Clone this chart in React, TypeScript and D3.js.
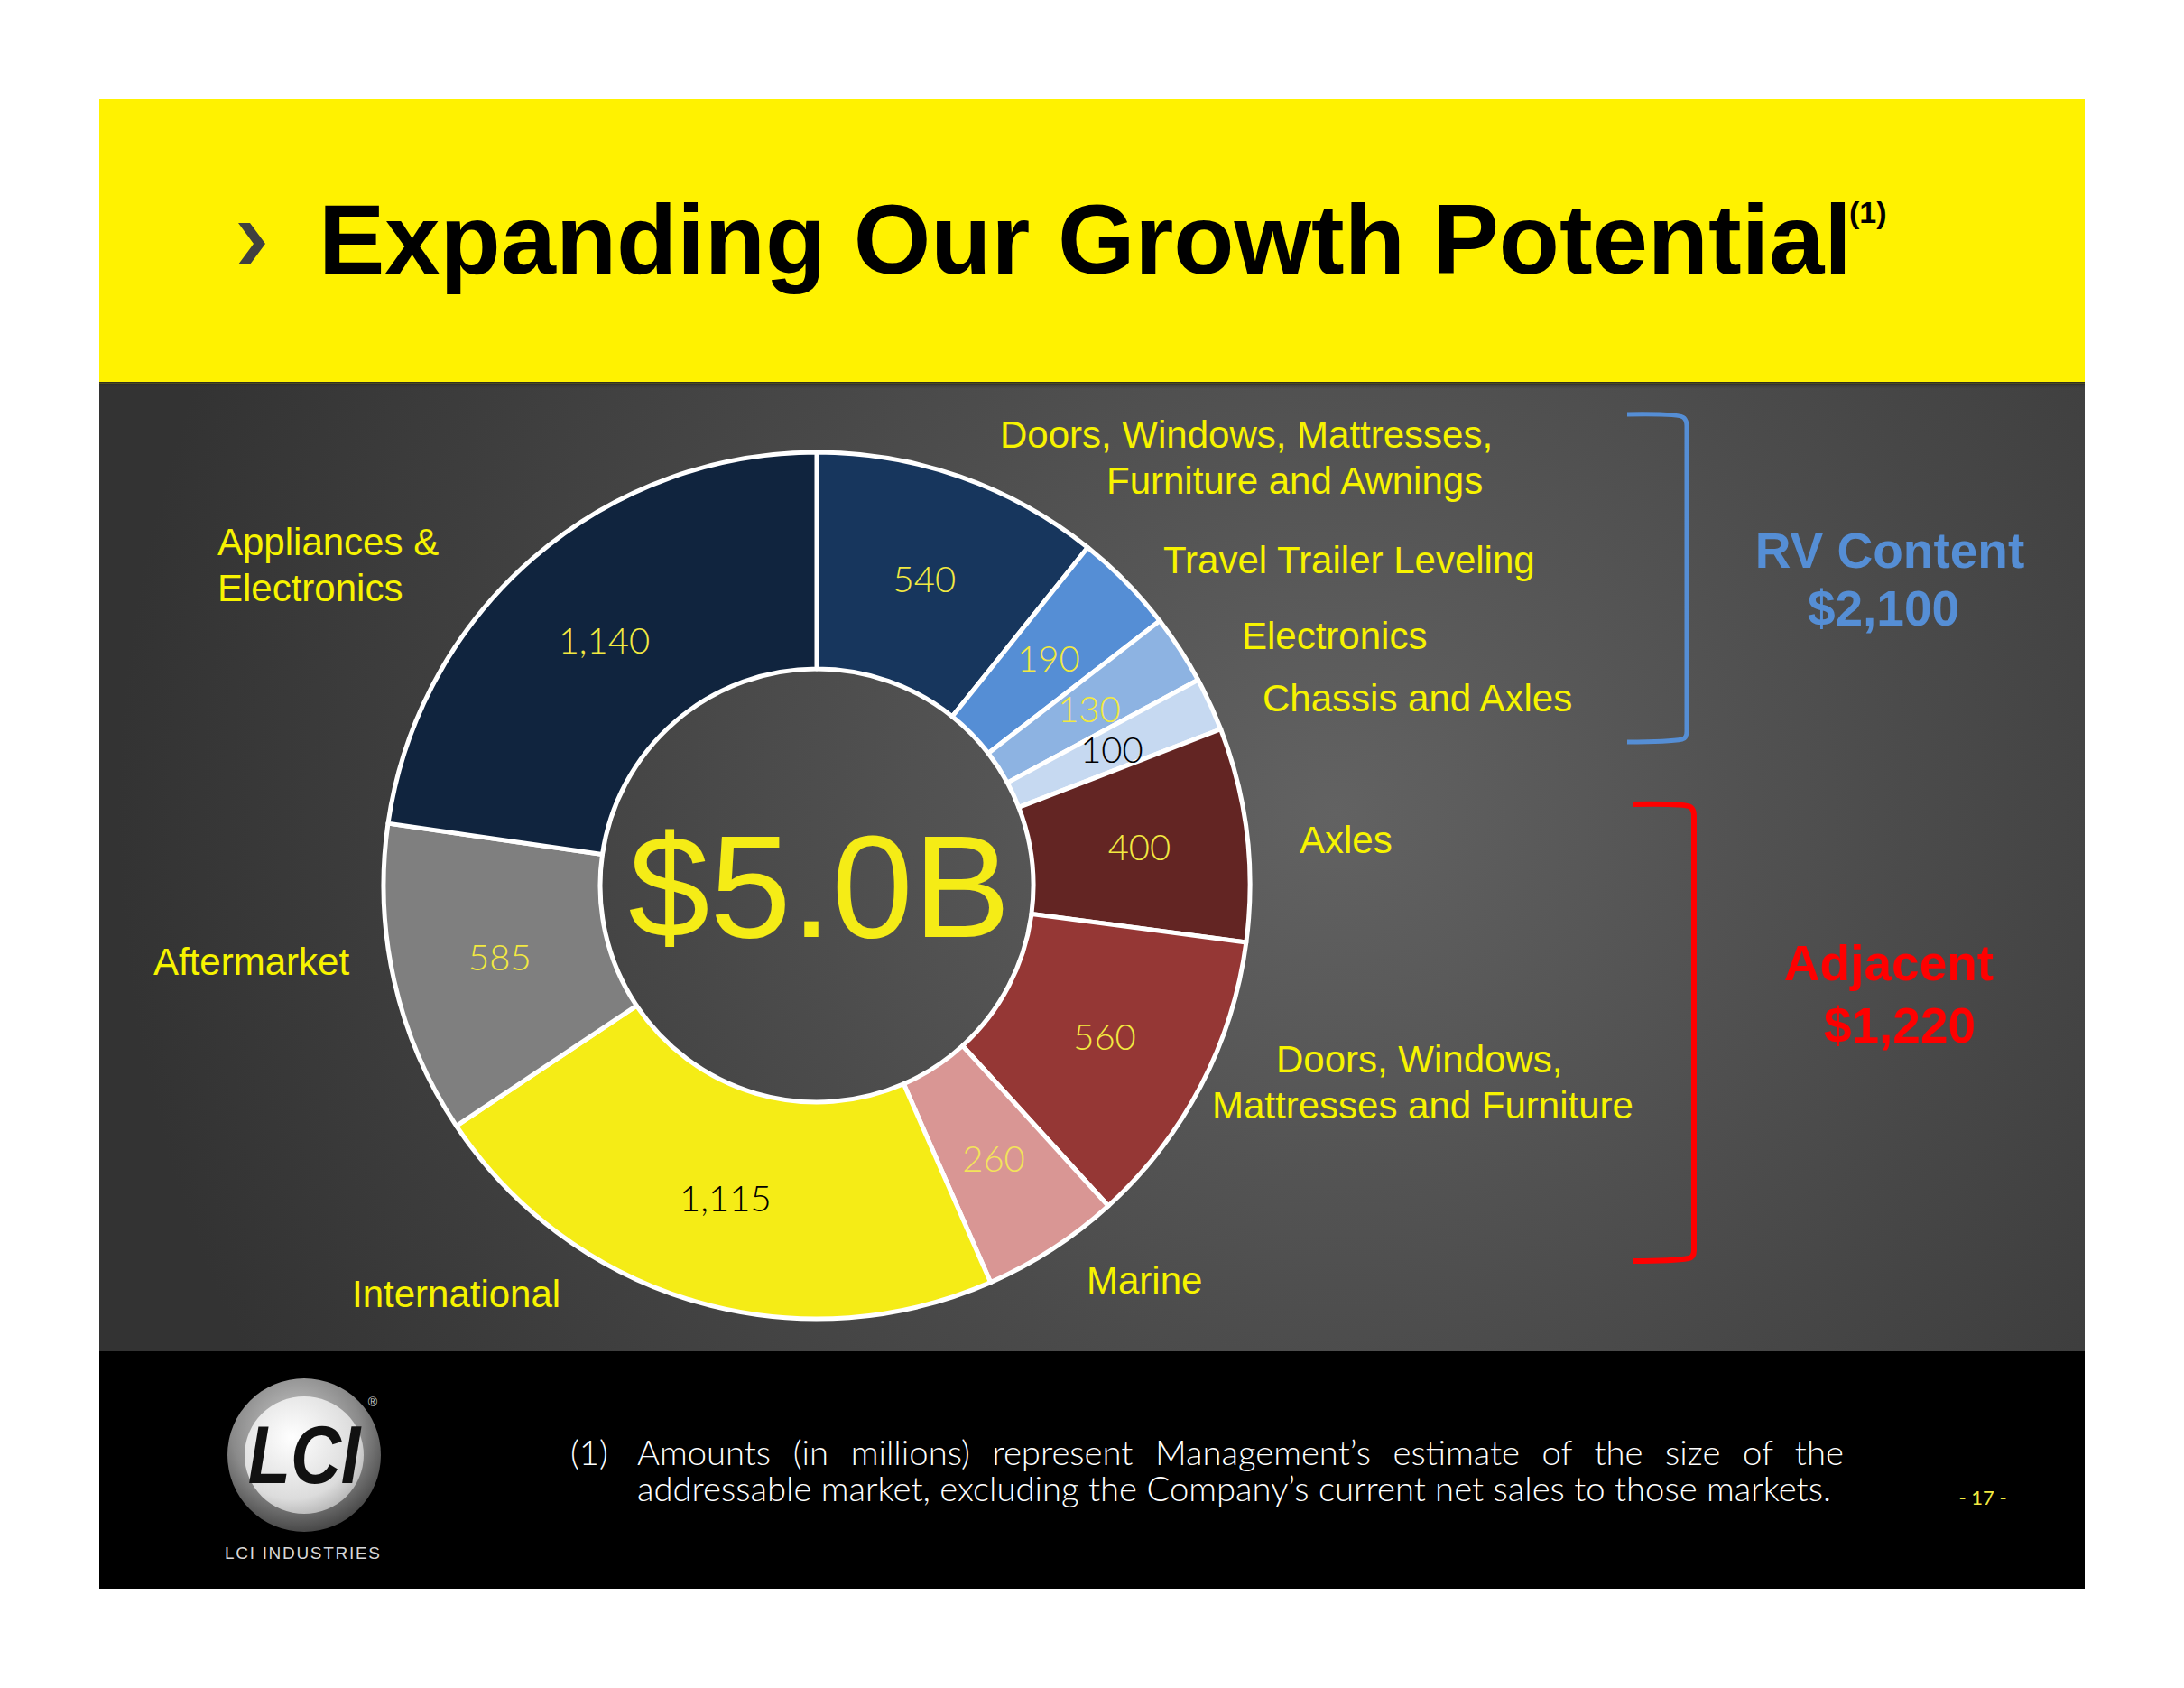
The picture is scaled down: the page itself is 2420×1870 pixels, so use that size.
import React, { useLayoutEffect, useRef, useState } from "react";
import * as d3 from "d3";

// ---------- data ----------
const categories = [
  "Doors, Windows, Mattresses, Furniture and Awnings",
  "Travel Trailer Leveling",
  "Electronics",
  "Chassis and Axles",
  "Axles",
  "Doors, Windows, Mattresses and Furniture",
  "Marine",
  "International",
  "Aftermarket",
  "Appliances & Electronics",
];
const values = [540, 190, 130, 100, 400, 560, 260, 1115, 585, 1140];
const valueLabels = ["540", "190", "130", "100", "400", "560", "260", "1,115", "585", "1,140"];
const groupNames = ["RV Content", "Adjacent"];
const groupTotals = ["$2,100", "$1,220"];
const totalLabel = "$5.0B";
const titleText = "Expanding Our Growth Potential";
const footnoteLine1 = "Amounts (in millions) represent Management\u2019s estimate of the size of the";
const footnoteLine2 = "addressable market, excluding the Company\u2019s current net sales to those markets.";
const pageNumber = "- 17 -";

// ---------- styles ----------
const sliceColors = ["#17365d", "#558ed5", "#8db3e2", "#c6d9f1", "#632523", "#953735", "#d99694", "#f5ec16", "#7f7f7f", "#10243e"];
const valueTextColors = ["#f2e941", "#f2e941", "#f2e941", "#000000", "#f2e941", "#f2e941", "#f3e35a", "#000000", "#f2e941", "#f2e941"];

// category label layout (lines, x, baseline y)
const labelLayout: { lines: string[]; x: number[]; y: number[] }[] = [
  { lines: ["Doors, Windows, Mattresses,", "Furniture and Awnings"], x: [1108, 1226], y: [496, 547] },
  { lines: ["Travel Trailer Leveling"], x: [1289], y: [635] },
  { lines: ["Electronics"], x: [1376], y: [719] },
  { lines: ["Chassis and Axles"], x: [1399], y: [788] },
  { lines: ["Axles"], x: [1440], y: [945] },
  { lines: ["Doors, Windows,", "Mattresses and Furniture"], x: [1414, 1343], y: [1188, 1239] },
  { lines: ["Marine"], x: [1204], y: [1433] },
  { lines: ["International"], x: [390], y: [1448] },
  { lines: ["Aftermarket"], x: [170], y: [1080] },
  { lines: ["Appliances &", "Electronics"], x: [241, 241], y: [615, 666] },
];

const W = 2420;
const H = 1870;
const CX = 905;
const CY = 981;
const R_OUT = 480;
const R_IN = 240;
const LABEL_YELLOW = "#f7f300";
const SANS = "'Liberation Sans', Arial, Helvetica, sans-serif";
const GOTHIC = "'Century Gothic', 'URW Gothic', Lato, 'Open Sans', sans-serif";
const FOOT_BASE = 32;
const LINE1_W = 1337;
const LINE2_W = 1323;

export default function App() {
  const l1Ref = useRef<SVGTextElement>(null);
  const l2Ref = useRef<SVGTextElement>(null);
  const [foot, setFoot] = useState({ size: FOOT_BASE, ws: 0, ready: false });

  useLayoutEffect(() => {
    if (foot.ready) return;
    const l1 = l1Ref.current;
    const l2 = l2Ref.current;
    if (!l1 || !l2) return;
    const w2 = l2.getComputedTextLength();
    const size = (FOOT_BASE * LINE2_W) / w2;
    const w1 = (l1.getComputedTextLength() * size) / FOOT_BASE;
    const gaps = footnoteLine1.split(" ").length - 1;
    const ws = (LINE1_W - w1) / gaps;
    setFoot({ size, ws, ready: true });
  }, [foot.ready]);

  const pie = d3
    .pie<number>()
    .sort(null)
    .value((d) => d)
    .startAngle(0)
    .endAngle(2 * Math.PI);
  const arcs = pie(values);
  const arcGen = d3.arc<d3.PieArcDatum<number>>().innerRadius(R_IN).outerRadius(R_OUT);
  const labelArc = d3
    .arc<d3.PieArcDatum<number>>()
    .innerRadius((R_IN + R_OUT) / 2)
    .outerRadius((R_IN + R_OUT) / 2);

  return (
    <svg
      width={W}
      height={H}
      viewBox={`0 0 ${W} ${H}`}
      style={{ position: "absolute", left: 0, top: 0, background: "#ffffff" }}
    >
      <defs>
        <radialGradient id="panelGrad" gradientUnits="userSpaceOnUse" cx={1480} cy={900} r={1350}>
          <stop offset="0" stopColor="#626262" />
          <stop offset="0.55" stopColor="#474747" />
          <stop offset="1" stopColor="#333333" />
        </radialGradient>
        <linearGradient id="shadowGrad" x1="0" y1="0" x2="0" y2="1">
          <stop offset="0" stopColor="#222222" />
          <stop offset="1" stopColor="#3a3a3a" stopOpacity="0" />
        </linearGradient>
        <radialGradient id="ringGrad" cx="0.45" cy="0.35" r="0.7">
          <stop offset="0" stopColor="#d0d0d0" />
          <stop offset="0.6" stopColor="#8a8a8a" />
          <stop offset="1" stopColor="#3a3a3a" />
        </radialGradient>
        <radialGradient id="discGrad" cx="0.4" cy="0.35" r="0.75">
          <stop offset="0" stopColor="#ffffff" />
          <stop offset="0.7" stopColor="#dcdcdc" />
          <stop offset="1" stopColor="#a8a8a8" />
        </radialGradient>
      </defs>

      {/* slide backgrounds */}
      <rect x={0} y={0} width={W} height={H} fill="#ffffff" />
      <rect x={110} y={110} width={2200} height={315} fill="#fff200" />
      <rect x={110} y={425} width={2200} height={1072} fill="url(#panelGrad)" />
      <rect x={110} y={423} width={2200} height={8} fill="url(#shadowGrad)" />
      <rect x={110} y={1497} width={2200} height={263} fill="#000000" />

      {/* title */}
      <polygon points="264,247 277,247 294,270 277,293 264,293 281,270" fill="#404040" />
      <text x={353} y={303} fontFamily={SANS} fontWeight="bold" fontSize={110} fill="#000000">
        {titleText}
      </text>
      <text x={2049} y={247} fontFamily={SANS} fontWeight="bold" fontSize={34} fill="#000000">
        (1)
      </text>

      {/* donut */}
      <g transform={`translate(${CX},${CY})`}>
        {arcs.map((a, i) => (
          <path key={categories[i]} d={arcGen(a) || ""} fill={sliceColors[i]} stroke="#ffffff" strokeWidth={5} strokeLinejoin="round" />
        ))}
        {arcs.map((a, i) => {
          const [lx, ly] = labelArc.centroid(a);
          return (
            <text
              key={"v" + i}
              x={lx}
              y={ly}
              textAnchor="middle"
              dominantBaseline="central"
              fontFamily={GOTHIC}
              fontWeight={300}
              fontSize={40}
              fill={valueTextColors[i]}
            >
              {valueLabels[i]}
            </text>
          );
        })}
        <text x={3} y={57} textAnchor="middle" fontFamily={SANS} fontSize={162} fill="#f5ec16">
          {totalLabel}
        </text>
      </g>

      {/* category labels */}
      {labelLayout.map((l, i) =>
        l.lines.map((line, j) => (
          <text key={categories[i] + j} x={l.x[j]} y={l.y[j]} fontFamily={SANS} fontSize={42} fill={LABEL_YELLOW}>
            {line}
          </text>
        ))
      )}

      {/* brackets */}
      <path d="M1803,459 Q1862,458 1866,463 Q1869,466 1869,472 L1869,810 Q1869,818 1864,819 Q1850,822 1803,822" fill="none" stroke="#558ed5" strokeWidth={5} />
      <path d="M1809,891 Q1868,890 1873,894 Q1877,897 1877,904 L1877,1385 Q1877,1393 1871,1394 Q1855,1397 1809,1397" fill="none" stroke="#ff0000" strokeWidth={6} />

      {/* group totals */}
      <text x={2094} y={629} textAnchor="middle" fontFamily={SANS} fontWeight="bold" fontSize={55} fill="#558ed5">
        {groupNames[0]}
      </text>
      <text x={2087} y={693} textAnchor="middle" fontFamily={SANS} fontWeight="bold" fontSize={55} fill="#558ed5">
        {groupTotals[0]}
      </text>
      <text x={2093} y={1086} textAnchor="middle" fontFamily={SANS} fontWeight="bold" fontSize={55} fill="#ff0000">
        {groupNames[1]}
      </text>
      <text x={2105} y={1155} textAnchor="middle" fontFamily={SANS} fontWeight="bold" fontSize={55} fill="#ff0000">
        {groupTotals[1]}
      </text>

      {/* footer: logo */}
      <ellipse cx={337} cy={1612} rx={85} ry={85} fill="url(#ringGrad)" />
      <ellipse cx={337} cy={1612} rx={66} ry={65} fill="url(#discGrad)" />
      <text
        x={337}
        y={1642}
        textAnchor="middle"
        fontFamily={SANS}
        fontWeight="bold"
        fontStyle="italic"
        fontSize={86}
        fill="#111111"
        transform="translate(337,1612) scale(0.9,1.05) translate(-337,-1612)"
      >
        LCI
      </text>
      <text x={413} y={1558} textAnchor="middle" fontFamily={SANS} fontSize={14} fill="#cccccc">
        ®
      </text>
      <text x={249} y={1727} fontFamily={SANS} fontSize={19} fill="#d8d8d8" textLength={172} lengthAdjust="spacing">
        LCI INDUSTRIES
      </text>

      {/* footnote */}
      <text x={632} y={1623} fontFamily={GOTHIC} fontWeight={300} fontSize={foot.size} fill="#ffffff">
        (1)
      </text>
      <text
        ref={l1Ref}
        x={706}
        y={1623}
        fontFamily={GOTHIC}
        fontWeight={300}
        fontSize={foot.size}
        fill="#ffffff"
        style={{ wordSpacing: `${foot.ws}px` }}
      >
        {footnoteLine1}
      </text>
      <text ref={l2Ref} x={706} y={1663} fontFamily={GOTHIC} fontWeight={300} fontSize={foot.size} fill="#ffffff">
        {footnoteLine2}
      </text>
      <text x={2197} y={1667} textAnchor="middle" fontFamily={GOTHIC} fontSize={22} fill="#f2e941">
        {pageNumber}
      </text>
    </svg>
  );
}
